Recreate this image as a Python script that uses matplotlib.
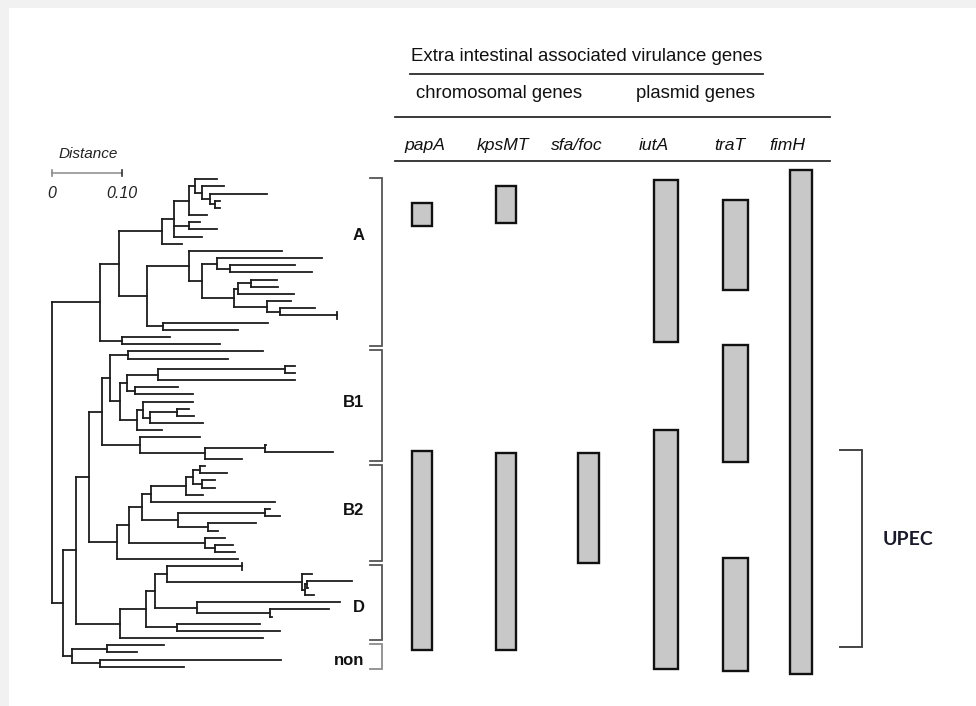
import matplotlib
matplotlib.use("Agg")
import matplotlib.pyplot as plt
from matplotlib.collections import LineCollection
from matplotlib.patches import Rectangle

plt.rcParams["font.family"] = ["Liberation Sans", "DejaVu Sans"]

# ---------------- phylogenetic tree ----------------
# tip distances from the root, listed top to bottom within each phylogroup
clade_names = ["A", "B1", "B2", "D", "non"]

tips_A = [0.235, 0.245, 0.307, 0.240, 0.240, 0.221, 0.211, 0.235, 0.214, 0.185,
          0.328, 0.385, 0.347, 0.371, 0.321, 0.323, 0.345, 0.342, 0.376, 0.407,
          0.309, 0.266, 0.169, 0.240]
tips_B1 = [0.302, 0.252, 0.347, 0.347, 0.347, 0.180, 0.201, 0.201, 0.195, 0.203,
           0.216, 0.157, 0.211, 0.306, 0.402, 0.271]
tips_B2 = [0.218, 0.250, 0.233, 0.233, 0.216, 0.319, 0.311, 0.325, 0.291, 0.237,
           0.247, 0.259, 0.261, 0.266]
tips_D = [0.271, 0.371, 0.428, 0.366, 0.374, 0.411, 0.395, 0.314, 0.297, 0.325,
          0.302]
tips_non = [0.160, 0.122, 0.327, 0.189]

# internal nodes: (name, distance from root, children)
joins_A = [
    ("a4", 0.233, ["A:4", "A:5"]),
    ("a3", 0.226, ["A:3", "a4"]),
    ("a2", 0.214, ["A:2", "a3"]),
    ("a1", 0.204, ["A:1", "a2"]),
    ("a5", 0.195, ["a1", "A:6"]),
    ("a6", 0.195, ["A:7", "A:8"]),
    ("a7", 0.174, ["a5", "a6", "A:9"]),
    ("a8", 0.157, ["a7", "A:10"]),
    ("b2", 0.254, ["A:13", "A:14"]),
    ("b3", 0.235, ["A:12", "b2"]),
    ("c1", 0.285, ["A:15", "A:16"]),
    ("c2", 0.266, ["c1", "A:17"]),
    ("c4", 0.326, ["A:19", "A:20"]),
    ("c3", 0.307, ["A:18", "c4"]),
    ("c5", 0.260, ["c2", "c3"]),
    ("b5", 0.214, ["b3", "c5"]),
    ("b6", 0.195, ["A:11", "b5"]),
    ("b8", 0.159, ["A:21", "A:22"]),
    ("b7", 0.136, ["b6", "b8"]),
    ("a9", 0.096, ["a8", "b7"]),
    ("a11", 0.100, ["A:23", "A:24"]),
    ("A", 0.068, ["a9", "a11"]),
]
joins_B1 = [
    ("e1", 0.109, ["B1:1", "B1:2"]),
    ("e2", 0.333, ["B1:3", "B1:4"]),
    ("e3", 0.152, ["e2", "B1:5"]),
    ("e4", 0.119, ["B1:6", "B1:7"]),
    ("e5", 0.107, ["e3", "e4"]),
    ("e6", 0.178, ["B1:9", "B1:10"]),
    ("e7", 0.140, ["e6", "B1:11"]),
    ("e8", 0.130, ["B1:8", "e7"]),
    ("e9", 0.121, ["e8", "B1:12"]),
    ("e10", 0.097, ["e5", "e9"]),
    ("e11", 0.083, ["e1", "e10"]),
    ("e12", 0.304, ["B1:14", "B1:15"]),
    ("e13", 0.219, ["e12", "B1:16"]),
    ("e14", 0.126, ["B1:13", "e13"]),
    ("B1", 0.072, ["e11", "e14"]),
]
joins_B2 = [
    ("f1", 0.211, ["B2:1", "B2:2"]),
    ("f2", 0.214, ["B2:3", "B2:4"]),
    ("f3", 0.201, ["f1", "f2"]),
    ("f4", 0.192, ["f3", "B2:5"]),
    ("f5", 0.142, ["f4", "B2:6"]),
    ("f6", 0.304, ["B2:7", "B2:8"]),
    ("f7", 0.223, ["B2:9", "B2:10"]),
    ("f8", 0.180, ["f6", "f7"]),
    ("f9", 0.129, ["f5", "f8"]),
    ("f10", 0.233, ["B2:12", "B2:13"]),
    ("f11", 0.218, ["B2:11", "f10"]),
    ("f12", 0.110, ["f9", "f11"]),
    ("B2", 0.093, ["f12", "B2:14"]),
]
joins_D = [
    ("g1", 0.364, ["D:3", "D:4"]),
    ("g2", 0.361, ["g1", "D:5"]),
    ("g3", 0.357, ["D:2", "g2"]),
    ("g4", 0.164, ["D:1", "g3"]),
    ("g5", 0.311, ["D:7", "D:8"]),
    ("g6", 0.207, ["D:6", "g5"]),
    ("g7", 0.147, ["g4", "g6"]),
    ("g8", 0.178, ["D:9", "D:10"]),
    ("g9", 0.134, ["g7", "g8"]),
    ("D", 0.097, ["g9", "D:11"]),
]
joins_non = [
    ("h1", 0.078, ["non:1", "non:2"]),
    ("h2", 0.069, ["non:3", "non:4"]),
    ("non", 0.029, ["h1", "h2"]),
]
joins_backbone = [
    ("B", 0.053, ["B1", "B2"]),
    ("BD", 0.034, ["B", "D"]),
    ("lower", 0.016, ["BD", "non"]),
    ("root", 0.0, ["A", "lower"]),
]
# tips that end in a short vertical tick
tick_tips = ["A:20", "D:1"]

# ---------------- virulence gene carriage (isolate rows) ----------------
genes = ["papA", "kpsMT", "sfa/foc", "iutA", "traT", "fimH"]
papA_rows = [(3.35, 6.53), (37.95, 65.65)]
kpsMT_rows = [(0.9, 6.05), (38.2, 65.65)]
sfa_foc_rows = [(38.2, 53.5)]
iutA_rows = [(0.1, 22.65), (34.95, 68.3)]
traT_rows = [(2.93, 15.44), (23.15, 39.45), (52.85, 68.65)]
fimH_rows = [(-1.26, 69.0)]
gene_rows = [papA_rows, kpsMT_rows, sfa_foc_rows, iutA_rows, traT_rows, fimH_rows]
upec_rows = (37.8, 65.2)

# ---------------- layout ----------------
W, H = 976, 706
X0_PX, PX_PER_UNIT = 52.0, 700.0       # tree origin and scale
ROW0_PX, ROW_PX = 179.3, 7.168          # first isolate row and row pitch
col_x = [422, 506, 588.3, 666, 735.5, 801.2]
col_w = [20.5, 20, 20.7, 24, 24.5, 22.3]
label_x = [425, 503, 576.7, 654, 730, 787.5]

fig = plt.figure(figsize=(W / 100, H / 100), dpi=100)
fig.patch.set_facecolor("#f1f1f1")

# pixel-space overlay for frame, headings and brackets
ax = fig.add_axes([0, 0, 1, 1])
ax.set_xlim(0, W)
ax.set_ylim(H, 0)
ax.axis("off")
ax.add_patch(Rectangle((9, 8), W, H, facecolor="white", edgecolor="none", zorder=0))

row_lim = ((H - ROW0_PX) / ROW_PX, -ROW0_PX / ROW_PX)

# tree axes: x = distance, y = isolate row
axt = fig.add_axes([0, 0, 1, 1])
axt.set_xlim(-X0_PX / PX_PER_UNIT, (W - X0_PX) / PX_PER_UNIT)
axt.set_ylim(*row_lim)
axt.axis("off")
axt.patch.set_alpha(0)

# bar axes: x = pixel column, y = isolate row
axb = fig.add_axes([0, 0, 1, 1])
axb.set_xlim(0, W)
axb.set_ylim(*row_lim)
axb.axis("off")
axb.patch.set_alpha(0)

# ---- build and draw the tree ----
depth, ypos, kids_of = {}, {}, {}
clade_span = {}
row = 0
for name, tips in zip(clade_names, [tips_A, tips_B1, tips_B2, tips_D, tips_non]):
    first = row
    for i, d in enumerate(tips, start=1):
        key = f"{name}:{i}"
        depth[key] = d
        ypos[key] = row
        row += 1
    clade_span[name] = (first, row - 1)

for joins in [joins_A, joins_B1, joins_B2, joins_D, joins_non, joins_backbone]:
    for name, d, kids in joins:
        depth[name] = d
        kids_of[name] = kids
        ys = [ypos[k] for k in kids]
        ypos[name] = (min(ys) + max(ys)) / 2

segs = []
for name, kids in kids_of.items():
    ys = [ypos[k] for k in kids]
    segs.append([(depth[name], min(ys)), (depth[name], max(ys))])
    for k in kids:
        segs.append([(depth[name], ypos[k]), (depth[k], ypos[k])])
for t in tick_tips:
    segs.append([(depth[t], ypos[t] - 0.5), (depth[t], ypos[t] + 0.5)])

axt.add_collection(LineCollection(segs, colors="#1c1c1c", linewidths=1.3,
                                  capstyle="projecting"))

# scale bar
sb_row = (173.3 - ROW0_PX) / ROW_PX
axt.plot([0, 0.10], [sb_row, sb_row], color="#8a8a8a", lw=1.1)
for xx, c in [(0, "#8a8a8a"), (0.10, "#333333")]:
    axt.plot([xx, xx], [sb_row - 0.4, sb_row + 0.4], color=c, lw=1.2)
ax.text(88.3, 158.3, "Distance", ha="center", va="baseline", fontsize=11,
        style="italic", color="#222222")
lbl_row = (198.3 - ROW0_PX) / ROW_PX
axt.text(0, lbl_row, "0", ha="center", va="baseline", fontsize=11.5,
         style="italic", color="#222222")
axt.text(0.10, lbl_row, "0.10", ha="center", va="baseline", fontsize=11.5,
         style="italic", color="#222222")

# phylogroup brackets and labels
label_base = {"A": 240, "B1": 406.7, "B2": 515, "D": 611.7, "non": 665}
for name in clade_names:
    r0, r1 = clade_span[name]
    top, bot = r0 - 0.15, r1 + 0.3
    col = "#8c8c8c" if name == "non" else "#555555"
    axb.plot([370, 382, 382, 370], [top, top, bot, bot], color=col, lw=1.3,
             solid_joinstyle="miter")
    ax.text(364.5, label_base[name], name, ha="right", va="baseline",
            fontsize=12, fontweight="bold", color="#111111")

# ---- gene carriage bars ----
for xc, w, spans in zip(col_x, col_w, gene_rows):
    starts = [s for s, e in spans]
    heights = [e - s for s, e in spans]
    axb.bar([xc] * len(spans), heights, bottom=starts, width=w,
            color="#c8c8c8", edgecolor="#111111", linewidth=1.7)

# ---- headings ----
ax.text(586.5, 60.7, "Extra intestinal associated virulance genes",
        ha="center", va="baseline", fontsize=13.4, color="#111111")
ax.plot([410, 763], [74, 74], color="#2b2b2b", lw=1.3)
ax.text(498.8, 98.3, "chromosomal genes", ha="center", va="baseline",
        fontsize=13.3, color="#111111")
ax.text(695, 98.3, "plasmid genes", ha="center", va="baseline",
        fontsize=13.3, color="#111111")
ax.plot([395, 830], [117.3, 117.3], color="#2b2b2b", lw=1.3)
for xl, g in zip(label_x, genes):
    ax.text(xl, 150, g, ha="center", va="baseline", fontsize=12.6,
            style="italic", color="#111111")
ax.plot([395, 830], [160.7, 160.7], color="#2b2b2b", lw=1.3)

# UPEC bracket
axb.plot([840, 861.7, 861.7, 840],
         [upec_rows[0], upec_rows[0], upec_rows[1], upec_rows[1]],
         color="#444444", lw=1.4, solid_joinstyle="miter")
ax.text(907.5, 545, "UPEC", ha="center", va="baseline", fontsize=14,
        fontweight="bold", family=["Lato", "DejaVu Sans"], color="#1a1a2a")

fig.savefig("out.png", dpi=100, facecolor=fig.get_facecolor())
